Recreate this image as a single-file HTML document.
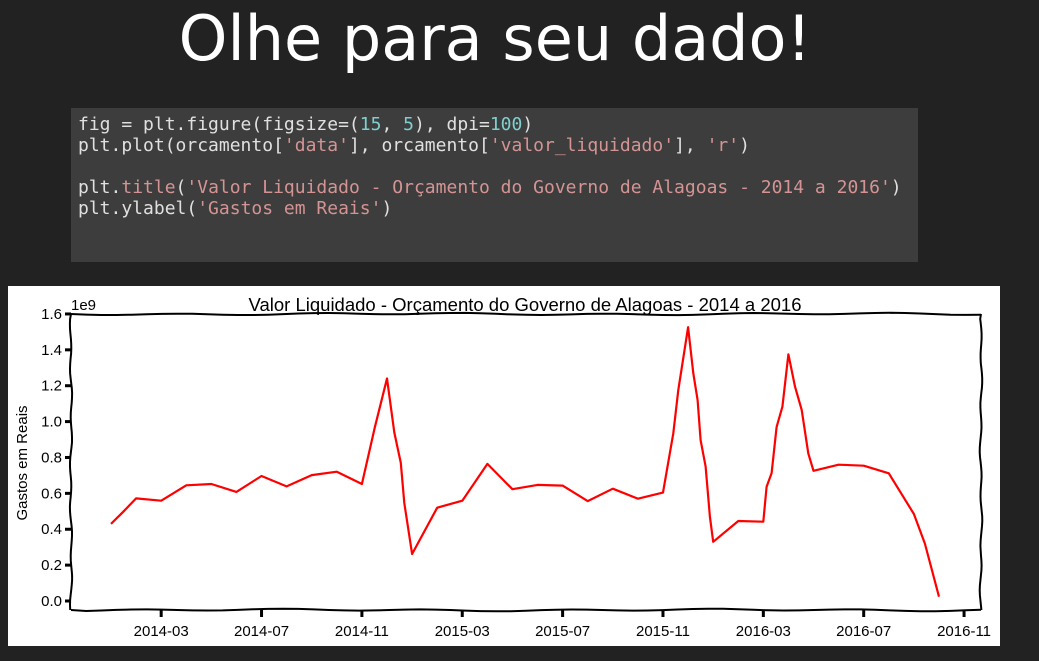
<!DOCTYPE html>
<html><head><meta charset="utf-8">
<style>
body{margin:0;width:1039px;height:661px;background:#222222;overflow:hidden;position:relative;font-family:"Liberation Sans",sans-serif}
#title{position:absolute;left:0;width:990px;top:2px;text-align:center;color:#fff;font-size:62px;font-family:"DejaVu Sans","Liberation Sans",sans-serif}
#code{position:absolute;left:71px;top:108px;width:847px;height:154px;background:#3d3d3d}
#code pre{margin:0;position:absolute;left:7px;top:6px;font-family:"DejaVu Sans Mono","Liberation Mono",monospace;font-size:18px;line-height:21px;color:#e0e0e0}
.s{color:#d49494}.n{color:#7fcfcf}
#chart{position:absolute;left:8px;top:286px}
</style></head><body>
<div id="title">Olhe para seu dado!</div>
<div id="code"><pre>fig = plt.figure(figsize=(<span class="n">15</span>, <span class="n">5</span>), dpi=<span class="n">100</span>)
plt.plot(orcamento[<span class="s">'data'</span>], orcamento[<span class="s">'valor_liquidado'</span>], <span class="s">'r'</span>)

plt.<span class="s">title</span>(<span class="s">'Valor Liquidado - Orçamento do Governo de Alagoas - 2014 a 2016'</span>)
plt.ylabel(<span class="s">'Gastos em Reais'</span>)</pre></div>
<svg id="chart" width="992" height="360"></svg>
<script>
const monthIdx=[0,0.49,1,2,3,4,5,6,7,8,9,10,10.52,11,11.29,11.55,11.69,12,13,14,15,16,17,18,19,20,21,22,22.41,22.61,23,23.21,23.38,23.5,23.7,23.87,24,25,26,26.13,26.33,26.53,26.76,27,27.26,27.53,27.79,28,29,30,31,32,32.44,33];
const values=[0.43,0.498,0.572,0.559,0.645,0.652,0.608,0.697,0.639,0.702,0.721,0.652,0.97,1.24,0.94,0.77,0.546,0.262,0.52,0.559,0.764,0.623,0.647,0.643,0.557,0.626,0.57,0.604,0.935,1.176,1.526,1.27,1.12,0.897,0.75,0.47,0.33,0.446,0.442,0.637,0.713,0.97,1.083,1.375,1.195,1.065,0.823,0.726,0.76,0.754,0.712,0.485,0.32,0.024];
const yTicks=[0,0.2,0.4,0.6,0.8,1.0,1.2,1.4,1.6];
const xTickIdx=[2,6,10,14,18,22,26,30,34];
const xTickLabels=["2014-03","2014-07","2014-11","2015-03","2015-07","2015-11","2016-03","2016-07","2016-11"];
const OX=8,OY=286;
const sx=m=>111-OX+m*25.09;
const sy=v=>601-OY-v*179.4;
const svg=document.getElementById('chart');
const NS='http://www.w3.org/2000/svg';
function mk(t,a,txt){const e=document.createElementNS(NS,t);for(const k in a)e.setAttribute(k,a[k]);if(txt!==undefined)e.textContent=txt;svg.appendChild(e);return e;}
const bg=mk('rect',{x:0,y:0,width:992,height:360,fill:'#fff'});


function wig(x1,y1,x2,y2,ph){let d='M'+x1+','+y1;const n=60;for(let i=1;i<=n;i++){const t=i/n;const w=Math.sin(t*40+ph)*0.8+Math.sin(t*13+ph)*0.5;const x=x1+(x2-x1)*t+(x1===x2?w:0);const y=y1+(y2-y1)*t+(y1===y2?w:0);d+=' L'+x.toFixed(1)+','+y.toFixed(1);}return d;}
const L=71-OX,R=981-OX,T=314-OY,B=610-OY;
[[L,T,R,T,'frame-top'],[L,B,R,B,'frame-bottom'],[L,T,L,B,'frame-left'],[R,T,R,B,'frame-right']].forEach((s,i)=>{const p=mk('path',{d:wig(s[0],s[1],s[2],s[3],i*1.7),stroke:'#000','stroke-width':2,fill:'none'});

});
yTicks.forEach(v=>{const y=sy(v);const l=mk('line',{x1:L-6,x2:L,y1:y,y2:y,stroke:'#000','stroke-width':3});


const t=mk('text',{x:L-9,y:y+5,'text-anchor':'end','font-size':15,fill:'#000'},v.toFixed(1));

});
xTickIdx.forEach((m,i)=>{const x=sx(m);const l=mk('line',{x1:x,x2:x,y1:B,y2:B+7,stroke:'#000','stroke-width':3});


const t=mk('text',{x:x,y:B+26,'text-anchor':'middle','font-size':15,fill:'#000'},xTickLabels[i]);

});
const ex=mk('text',{x:L,y:T-4,'font-size':15,fill:'#000'},'1e9');


const ttl=mk('text',{x:525-OX,y:306-OY+5,'text-anchor':'middle','font-size':18.5,fill:'#000'},'Valor Liquidado - Orçamento do Governo de Alagoas - 2014 a 2016');


const yl=mk('text',{x:0,y:0,'text-anchor':'middle','font-size':15,fill:'#000',transform:'translate('+(27-OX)+','+(463-OY)+') rotate(-90)'},'Gastos em Reais');


const pts=monthIdx.map((m,i)=>sx(m).toFixed(1)+','+sy(values[i]).toFixed(1)).join(' ');
const line=mk('polyline',{points:pts,fill:'none',stroke:'#ff0000','stroke-width':2.2,'stroke-linejoin':'round'});


</script>
</body></html>
